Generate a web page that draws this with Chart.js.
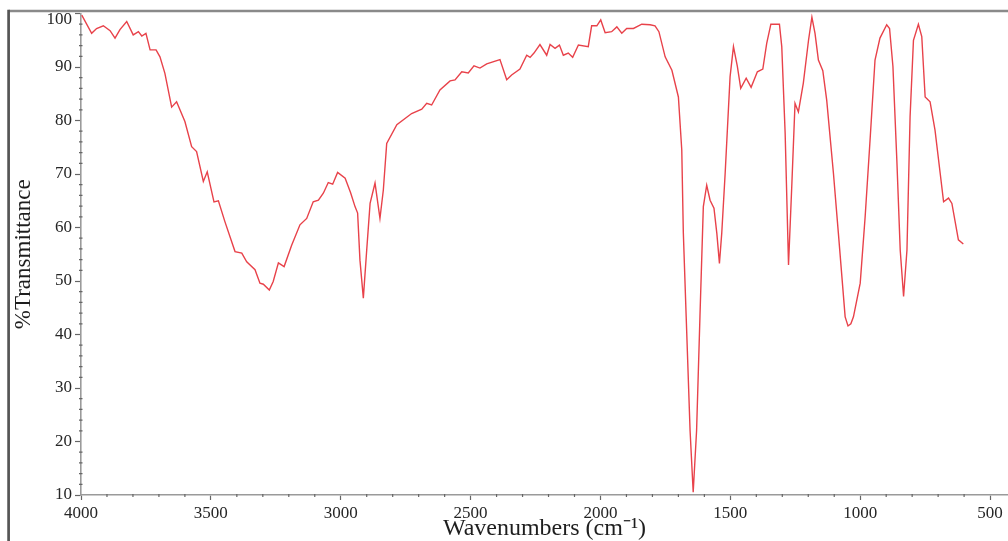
<!DOCTYPE html>
<html>
<head>
<meta charset="utf-8">
<script src="https://cdn.jsdelivr.net/npm/chart.js@4/dist/chart.umd.min.js"></script>
<style>
html,body{margin:0;padding:0;background:#fff;}
canvas{display:block;}
</style>
</head>
<body>
<canvas id="c" width="1008" height="541"></canvas>
<script>
const wavenumbers = [3997,3959,3940,3914,3888,3869,3850,3824,3799,3779,3766,3750,3734,3711,3696,3677,3651,3632,3600,3574,3555,3529,3514,3488,3471,3446,3407,3381,3362,3330,3311,3298,3275,3260,3240,3218,3189,3157,3131,3106,3086,3067,3048,3031,3012,2983,2962,2945,2935,2926,2913,2900,2887,2868,2849,2836,2823,2784,2727,2688,2669,2650,2618,2579,2560,2534,2509,2487,2464,2438,2387,2361,2342,2310,2284,2271,2256,2233,2207,2194,2175,2158,2143,2124,2107,2085,2047,2034,2014,1999,1982,1957,1937,1918,1899,1873,1841,1809,1790,1775,1751,1725,1700,1687,1681,1670,1655,1643,1630,1617,1604,1591,1578,1563,1552,1542,1533,1520,1501,1488,1473,1460,1439,1420,1396,1375,1360,1344,1311,1302,1289,1276,1263,1251,1238,1219,1199,1186,1174,1161,1144,1129,1103,1084,1058,1047,1036,1026,1000,981,962,943,924,898,887,874,859,846,833,820,808,795,776,763,750,731,712,692,679,660,647,622,603];
const transmittance = [99.7,96.3,97.2,97.7,96.8,95.4,97.0,98.5,96.0,96.6,95.8,96.3,93.2,93.2,91.9,88.8,82.5,83.5,79.8,75.1,74.2,68.6,70.4,64.8,65.0,61.1,55.5,55.2,53.6,52.1,49.6,49.4,48.3,49.9,53.4,52.7,56.7,60.5,61.7,64.8,65.1,66.4,68.4,68.1,70.3,69.2,66.5,63.9,62.7,53.9,46.8,55.8,64.5,68.3,61.7,67.0,75.7,79.2,81.3,82.1,83.2,82.9,85.7,87.4,87.6,89.1,88.9,90.2,89.8,90.6,91.4,87.6,88.5,89.6,92.2,91.8,92.6,94.2,92.2,94.2,93.5,94.1,92.2,92.6,91.8,94.1,93.8,97.7,97.7,98.8,96.4,96.6,97.5,96.3,97.2,97.2,98.0,97.9,97.7,96.6,91.9,89.4,84.4,74.5,59.0,43.3,22.0,10.5,22.0,43.3,63.9,67.9,65.1,63.6,58.9,53.3,59.0,70.1,88.2,93.8,90.1,86.0,87.9,86.2,89.1,89.6,94.4,98.0,98.0,93.8,77.6,53.0,68.3,83.2,81.6,87.0,95.0,99.3,96.3,91.3,89.3,83.8,70.1,58.9,43.3,41.6,42.0,43.3,49.6,62.0,76.4,91.3,95.4,97.9,97.2,90.1,72.6,55.8,47.1,55.8,80.7,95.0,98.0,95.7,84.4,83.5,78.2,70.1,64.8,65.5,64.5,57.7,56.9];
const xTickValues = [4000,3500,3000,2500,2000,1500,1000,500];
const yTickValues = [10,20,30,40,50,60,70,80,90,100];
const xMinorStep = 100;
const yMinorStep = 2;

const points = wavenumbers.map((w, i) => ({x: w, y: transmittance[i]}));

const framePlugin = {
  id: 'frame',
  beforeDraw(chart) {
    const ctx = chart.ctx;
    ctx.save();
    ctx.fillStyle = '#ffffff';
    ctx.fillRect(0, 0, chart.width, chart.height);
    ctx.restore();
  },
  afterDraw(chart) {
    const ctx = chart.ctx;
    const xs = chart.scales.x, ys = chart.scales.y;
    const ca = chart.chartArea;
    ctx.save();
    ctx.strokeStyle = '#8a8a8a';
    ctx.lineWidth = 2.5;
    ctx.beginPath();
    ctx.moveTo(8.6, 11);
    ctx.lineTo(chart.width, 11);
    ctx.stroke();
    ctx.strokeStyle = '#555555';
    ctx.lineWidth = 2.7;
    ctx.beginPath();
    ctx.moveTo(8.6, 9.8);
    ctx.lineTo(8.6, chart.height);
    ctx.stroke();
    ctx.strokeStyle = '#666666';
    ctx.lineWidth = 1.2;
    ctx.beginPath();
    for (let v = 500; v <= 4000; v += xMinorStep) {
      if (v % 500 === 0) continue;
      const px = xs.getPixelForValue(v);
      ctx.moveTo(px, ca.bottom - 1);
      ctx.lineTo(px, ca.bottom + 2);
    }
    for (let v = 10; v <= 100; v += yMinorStep) {
      if (v % 10 === 0) continue;
      const py = ys.getPixelForValue(v);
      ctx.moveTo(ca.left - 2, py);
      ctx.lineTo(ca.left + 1.5, py);
    }
    ctx.stroke();
    ctx.restore();
  }
};

new Chart(document.getElementById('c'), {
  type: 'line',
  data: {
    datasets: [{
      data: points,
      borderColor: 'rgb(232,66,74)',
      borderWidth: 1.4,
      pointRadius: 0,
      tension: 0,
      fill: false
    }]
  },
  options: {
    responsive: false,
    animation: false,
    events: [],
    layout: {padding: {top: 13.5, left: 0, right: 0, bottom: 0}},
    plugins: {legend: {display: false}, tooltip: {enabled: false}},
    scales: {
      x: {
        type: 'linear',
        reverse: true,
        min: 431,
        max: 4000,
        afterBuildTicks(scale) { scale.ticks = xTickValues.map(v => ({value: v})); },
        afterFit(scale) { scale.height = 46; scale.paddingLeft = 0; scale.paddingRight = 0; },
        ticks: {
          autoSkip: false,
          maxRotation: 0,
          padding: 3,
          color: '#262626',
          font: {family: '"Liberation Serif", serif', size: 17},
          callback: v => String(v)
        },
        grid: {drawOnChartArea: false, drawTicks: true, tickLength: 5, tickColor: '#666666', tickWidth: 1.2},
        border: {display: true, color: '#9a9a9a', width: 1.6},
        title: {
          display: true,
          text: 'Wavenumbers (cm\u207B\u00B9)',
          color: '#1e1e1e',
          font: {family: '"Liberation Serif", serif', size: 24, lineHeight: 1},
          padding: {top: 0, bottom: 0}
        }
      },
      y: {
        type: 'linear',
        min: 10,
        max: 100,
        afterBuildTicks(scale) { scale.ticks = yTickValues.map(v => ({value: v})); },
        afterFit(scale) { scale.width = 81; scale.paddingTop = 0; scale.paddingBottom = 0; },
        ticks: {
          autoSkip: false,
          padding: 3,
          color: '#262626',
          font: ctx => ({family: '"Liberation Serif", serif', size: 17, lineHeight: (ctx.tick && ctx.tick.value === 100) ? 0.76 : 1.2}),
          callback: v => (v === 100 ? ['', '100'] : String(v))
        },
        grid: {drawOnChartArea: false, drawTicks: true, tickLength: 6, tickColor: '#666666', tickWidth: 1.2},
        border: {display: true, color: '#9a9a9a', width: 1.6},
        title: {
          display: true,
          text: '%Transmittance',
          color: '#1e1e1e',
          font: {family: '"Liberation Serif", serif', size: 23, lineHeight: 1},
          padding: {top: 12.5, bottom: 0}
        }
      }
    }
  },
  plugins: [framePlugin]
});
</script>
</body>
</html>
